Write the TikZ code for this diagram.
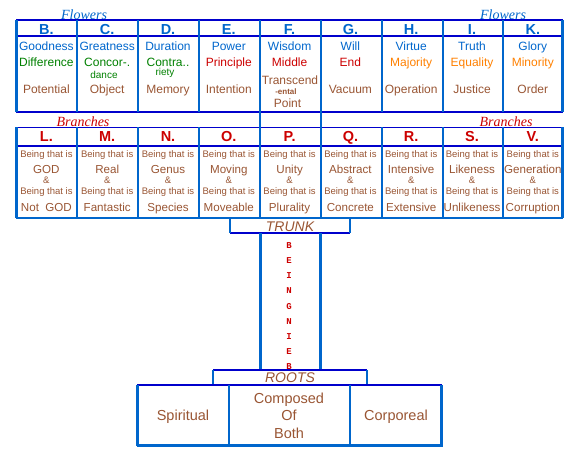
\documentclass[tikz,border=0pt]{standalone}
\usepackage{fontspec}
\setmainfont{Liberation Sans}
\newfontfamily\tagfont{Liberation Serif}
\newfontfamily\stemfont{Liberation Mono}
\definecolor{linedark}{RGB}{0,0,204}
\definecolor{linelight}{RGB}{0,102,204}
\definecolor{txtblue}{RGB}{0,102,204}
\definecolor{txtgreen}{RGB}{0,128,0}
\definecolor{txtred}{RGB}{204,0,0}
\definecolor{txtorange}{RGB}{255,128,0}
\definecolor{txtbrown}{RGB}{153,85,51}
\tikzset{
  rule/.style={linedark, line width=1.2pt},
  bar/.style={linelight, line width=2.2pt},
  edge/.style={linelight, line width=3pt},
  head/.style={font=\bfseries\fontsize{14.5}{14.5}\selectfont, inner sep=0pt, anchor=base},
  word/.style={font=\fontsize{12}{12}\selectfont, inner sep=0pt, anchor=base},
  small/.style={font=\fontsize{10}{10}\selectfont, inner sep=0pt, anchor=base},
  tiny/.style={font=\bfseries\fontsize{8}{8}\selectfont, inner sep=0pt, anchor=base},
  being/.style={font=\fontsize{9.5}{9.5}\selectfont, txtbrown, inner sep=0pt, anchor=base},
  big/.style={font=\fontsize{11.6}{11.6}\selectfont, txtbrown, inner sep=0pt, anchor=base},
  tagname/.style={font=\tagfont\itshape\fontsize{14}{14}\selectfont, inner sep=0pt, anchor=base},
  part/.style={font=\itshape\fontsize{14}{14}\selectfont, txtbrown, inner sep=0pt, anchor=base},
  root/.style={font=\fontsize{14.5}{14.5}\selectfont, txtbrown, inner sep=0pt, anchor=base},
  stem/.style={font=\stemfont\bfseries\fontsize{9}{9}\selectfont, txtred, inner sep=0pt}
}
\begin{document}
\begin{tikzpicture}[x=1pt,y=-1pt]
\useasboundingbox (0,0) rectangle (578,454);
% flowers
\node[tagname, txtblue] (flowersL) at (84,19.5) {Flowers};
\node[tagname, txtblue] (flowersR) at (503,19.5) {Flowers};
\foreach \y in {20,36,112} \draw[rule] (16,\y) -- (563,\y);
\foreach \x in {77,138,199,260,321,382,443,503} \draw[bar] (\x,20) -- (\x,112);
\draw[edge] (16.5,20) -- (16.5,112);
\draw[edge] (562.5,20) -- (562.5,112);
\foreach \l/\a/\b/\bc/\c [count=\i from 0] in {
  B./Goodness/Difference/txtgreen/Potential,
  C./Greatness/Concor-./txtgreen/Object,
  D./Duration/Contra../txtgreen/Memory,
  E./Power/Principle/txtred/Intention,
  F./Wisdom/Middle/txtred/{},
  G./Will/End/txtred/Vacuum,
  H./Virtue/Majority/txtorange/Operation,
  I./Truth/Equality/txtorange/Justice,
  K./Glory/Minority/txtorange/Order}{
  \pgfmathsetmacro\cx{16+60.8*(\i+0.5)}
  \node[head, txtblue] (fl\i) at (\cx,35) {\l};
  \node[word, txtblue] (fa\i) at (\cx,51) {\a};
  \node[word, \bc] (fb\i) at (\cx,67) {\b};
  \node[word, txtbrown] (fc\i) at (\cx,94) {\c};
}
\node[small, txtgreen] (dance) at (104,78.5) {dance};
\node[small, txtgreen] (riety) at (165,76) {riety};
\node[word, txtbrown] (transcend) at (290,85) {Transcend};
\node[tiny, txtbrown] (ental) at (286,94.5) {-ental};
\node[word, txtbrown] (point) at (287.5,108) {Point};
% link
\draw[bar] (260,112) -- (260,127.5);
\draw[bar] (321,112) -- (321,127.5);
% branches
\node[tagname, txtred] (branchesL) at (83,126.7) {Branches};
\node[tagname, txtred] (branchesR) at (506,126.7) {Branches};
\foreach \y in {127.5,146} \draw[rule] (16,\y) -- (563,\y);
\draw[linelight, line width=1.5pt] (16,218) -- (563,218);
\foreach \x in {77,138,199,260,321,382,443,503} \draw[bar] (\x,127.5) -- (\x,218);
\draw[edge] (16.5,127.5) -- (16.5,218);
\draw[edge] (562.5,127.5) -- (562.5,218);
\foreach \l/\a/\b [count=\i from 0] in {
  L./GOD/Not\ \ GOD, M./Real/Fantastic, N./Genus/Species,
  O./Moving/Moveable, P./Unity/Plurality, Q./Abstract/Concrete,
  R./Intensive/Extensive, S./Likeness/Unlikeness, V./Generation/Corruption}{
  \pgfmathsetmacro\cx{16+60.8*(\i+0.5)}
  \node[head, txtred] (bl\i) at (\cx,141.7) {\l};
  \node[being] (bt\i) at (\cx,157.7) {Being that is};
  \node[big] (ba\i) at (\cx,173.3) {\a};
  \node[being] (bn\i) at (\cx,183.3) {\&};
  \node[being] (bu\i) at (\cx,194.3) {Being that is};
  \node[big] (bb\i) at (\cx,211.7) {\b};
}
% trunk
\node[part] (trunk) at (290,231.7) {TRUNK};
\draw[rule] (230,233) -- (350,233);
\draw[bar] (230,218) -- (230,233);
\draw[bar] (350,218) -- (350,233);
\draw[edge] (260,233) -- (260,370);
\draw[edge] (320,233) -- (320,370);
\foreach \c [count=\i from 0] in {B,E,I,N,G,N,I,E,B}
  \node[stem] (stem\i) at (289,245.3+15.2*\i) {\c};
% roots
\node[part] (roots) at (290,382.7) {ROOTS};
\draw[rule] (213,370) -- (367,370);
\draw[bar] (213,370) -- (213,385);
\draw[bar] (367,370) -- (367,385);
\draw[rule] (137,385) -- (442,385);
\draw[edge] (137.5,385) -- (137.5,446);
\draw[edge] (441.5,385) -- (441.5,446);
\draw[bar] (229,385) -- (229,446);
\draw[bar] (350,385) -- (350,446);
\draw[edge] (137,445.5) -- (443,445.5);
\node[root] (spiritual) at (183,420) {Spiritual};
\node[root] (composed) at (289,403.3) {Composed};
\node[root] (of) at (289,420) {Of};
\node[root] (both) at (289,438.3) {Both};
\node[root] (corporeal) at (396,420) {Corporeal};
\end{tikzpicture}
\end{document}
